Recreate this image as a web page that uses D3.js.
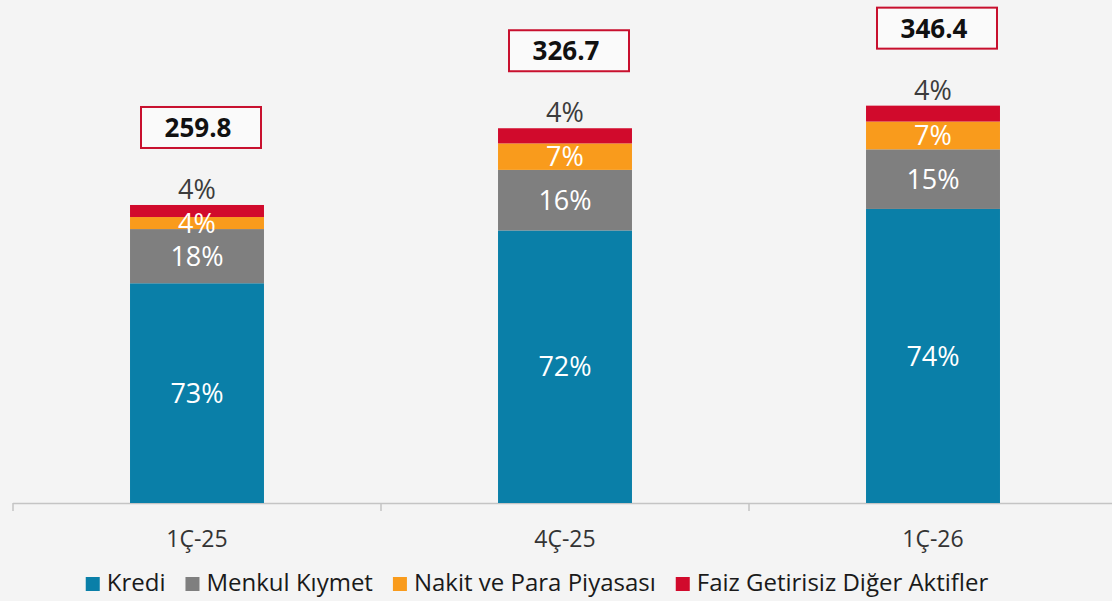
<!DOCTYPE html>
<html>
<head>
<meta charset="utf-8">
<script src="https://cdn.jsdelivr.net/npm/d3@7"></script>
<style>
    html, body { margin: 0; padding: 0; background: #f4f4f4; }
    svg { display: block; font-family: "Open Sans", "Noto Sans", sans-serif; }
</style>
</head>
<body>
<div id="container"></div>
<script>
"use strict";

var categories = ["1Ç-25", "4Ç-25", "1Ç-26"];
var totals = [259.8, 326.7, 346.4];
var series = ["Kredi", "Menkul Kıymet", "Nakit ve Para Piyasası", "Faiz Getirisiz Diğer Aktifler"];
var kredi = [73, 72, 74];
var menkul = [18, 16, 15];
var nakit = [4, 7, 7];
var faiz = [4, 4, 4];
var colors = ["#0a7fa8", "#7f7f7f", "#f99b1c", "#d10a2c"];

var shares = [kredi, menkul, nakit, faiz];

var width = 1112, height = 601;
var baseY = 503;

var rows = categories.map(function(c, i) {
    var sum = d3.sum(shares, function(s) { return s[i]; });
    var row = { cat: c, total: totals[i] };
    series.forEach(function(name, k) {
        row[name] = totals[i] * shares[k][i] / sum;
        row["pct_" + name] = shares[k][i];
    });
    return row;
});

var stacked = d3.stack().keys(series)(rows);

var x = d3.scaleBand()
    .domain(categories)
    .range([13, 1117])
    .paddingInner(0.636)
    .paddingOuter(0.318);

var y = d3.scaleLinear()
    .domain([0, 438.5])
    .range([baseY, 0]);

var svg = d3.select("#container").append("svg")
    .attr("width", width)
    .attr("height", height)
    .style("background-color", "#f4f4f4");

// axis line and boundary ticks
svg.append("line")
    .attr("x1", 13).attr("x2", width)
    .attr("y1", baseY + 0.5).attr("y2", baseY + 0.5)
    .attr("stroke", "#c4c4c4")
    .attr("stroke-width", 1.5);

var gap = (x.step() - x.bandwidth()) / 2;
svg.selectAll(".btick")
    .data(categories)
    .enter().append("line")
        .attr("class", "btick")
        .attr("x1", function(d) { return x(d) - gap; })
        .attr("x2", function(d) { return x(d) - gap; })
        .attr("y1", baseY)
        .attr("y2", baseY + 8)
        .attr("stroke", "#c4c4c4")
        .attr("stroke-width", 1.5);

svg.selectAll(".cat")
    .data(categories)
    .enter().append("text")
        .attr("class", "cat")
        .attr("x", function(d) { return x(d) + x.bandwidth() / 2; })
        .attr("y", 547)
        .attr("text-anchor", "middle")
        .attr("font-size", 23)
        .attr("fill", "#333")
        .text(function(d) { return d; });

// bars
var layer = svg.selectAll(".layer")
    .data(stacked)
    .enter().append("g")
        .attr("class", "layer")
        .attr("fill", function(d, i) { return colors[i]; });

layer.selectAll("rect")
    .data(function(d) { return d; })
    .enter().append("rect")
        .attr("x", function(d) { return x(d.data.cat); })
        .attr("width", x.bandwidth())
        .attr("y", function(d) { return y(d[1]); })
        .attr("height", function(d) { return y(d[0]) - y(d[1]); });

// segment labels
stacked.forEach(function(s, k) {
    var last = k === series.length - 1;
    svg.selectAll(".lbl" + k)
        .data(s)
        .enter().append("text")
            .attr("class", "lbl" + k)
            .attr("x", function(d) { return x(d.data.cat) + x.bandwidth() / 2; })
            .attr("y", function(d) {
                return last ? y(d[1]) - 6 : (y(d[0]) + y(d[1])) / 2;
            })
            .attr("dy", last ? "0" : "0.36em")
            .attr("text-anchor", "middle")
            .attr("font-size", 27)
            .attr("fill", last ? "#3c3c3c" : "#fff")
            .text(function(d) { return d.data["pct_" + s.key] + "%"; });
});

// total boxes
var boxes = svg.selectAll(".total")
    .data(rows)
    .enter().append("g")
        .attr("class", "total")
        .attr("transform", function(d) {
            return "translate(" + (x(d.cat) + x.bandwidth() / 2 + 4) + "," + (y(d.total) - 57) + ")";
        });

boxes.append("rect")
    .attr("x", -60)
    .attr("y", -41)
    .attr("width", 120)
    .attr("height", 41)
    .attr("fill", "#fafafa")
    .attr("stroke", "#c8102e")
    .attr("stroke-width", 2);

boxes.append("text")
    .attr("x", -3)
    .attr("y", -11)
    .attr("text-anchor", "middle")
    .attr("font-size", 26)
    .attr("font-weight", "bold")
    .attr("fill", "#111")
    .text(function(d) { return d.total.toFixed(1); });

// legend
var legend = svg.append("g").attr("class", "legend");
var lx = 0;
series.forEach(function(name, i) {
    var item = legend.append("g").attr("transform", "translate(" + lx + ",0)");
    item.append("rect")
        .attr("x", 0).attr("y", -14)
        .attr("width", 14).attr("height", 14)
        .attr("fill", colors[i]);
    var t = item.append("text")
        .attr("x", 21)
        .attr("y", 0)
        .attr("font-size", 24)
        .attr("fill", "#1a1a1a")
        .text(name);
    lx += 21 + t.node().getComputedTextLength() + 20;
});
var legendWidth = lx - 20;
legend.attr("transform", "translate(" + (537 - legendWidth / 2) + ",591)");
</script>
</body>
</html>
